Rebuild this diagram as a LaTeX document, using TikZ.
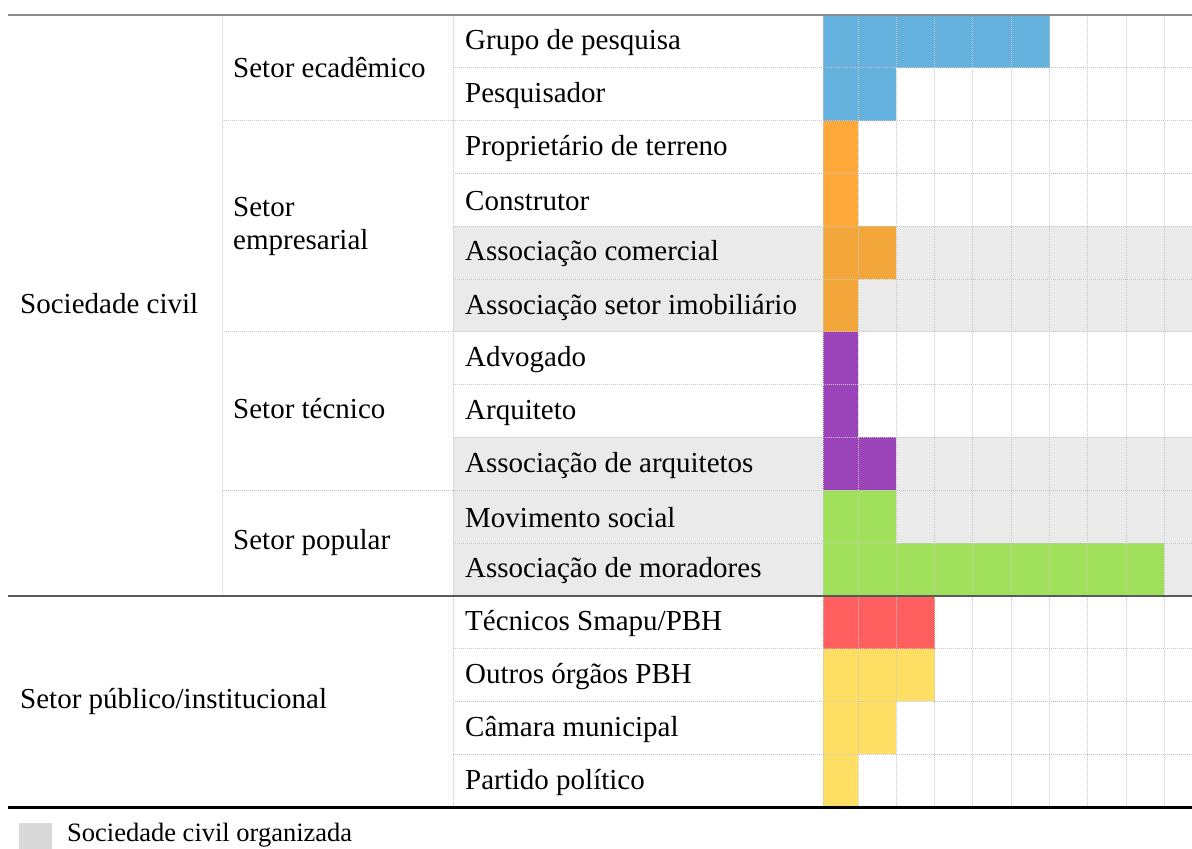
\documentclass[tikz,border=0pt]{standalone}
\usepackage{fontspec}
\setmainfont{Liberation Serif}
\definecolor{barblue}{HTML}{63B1DC}
\definecolor{barorange}{HTML}{FFA93B}
\definecolor{barorangedim}{HTML}{F3A73A}
\definecolor{barpurple}{HTML}{9B44B9}
\definecolor{bargreen}{HTML}{A0E05A}
\definecolor{barred}{HTML}{FF5F5F}
\definecolor{baryellow}{HTML}{FFDF63}
\definecolor{rowshade}{HTML}{EAEAEA}
\definecolor{legendshade}{HTML}{D9D9D9}

\begin{document}
\begin{tikzpicture}[x=1pt,y=-1pt,
  every node/.style={font=\fontsize{29}{33}\selectfont,inner sep=0pt},
  rowlabel/.style={anchor=west},
  grouplabel/.style={anchor=west,align=left},
  bar/.style={fill=#1},
  gridline/.style={draw=black!22,densely dotted,line width=1pt},
  rule/.style={line width=#1}]
\useasboundingbox (0,0) rectangle (1192,849);

% shaded rows
\foreach \i in {5,6,9,10,11}
  \fill[rowshade] (453,{15+52.8*(\i-1)}) rectangle (1192,{15+52.8*\i});

% bars
\foreach \i/\c/\n in {1/barblue/6, 2/barblue/2, 3/barorange/1, 4/barorange/1,
    5/barorangedim/2, 6/barorangedim/1, 7/barpurple/1, 8/barpurple/1, 9/barpurple/2,
    10/bargreen/2, 11/bargreen/9, 12/barred/3, 13/baryellow/3, 14/baryellow/2,
    15/baryellow/1}
  \fill[bar=\c] (823,{15+52.8*(\i-1)}) rectangle ({858+38.3*(\n-1)},{15+52.8*\i});

% grid
\foreach \i in {1,...,10,12,13,14}
  \draw[gridline] (453,{15+52.8*\i}) -- (1192,{15+52.8*\i});
\foreach \i in {2,6,9}
  \draw[gridline] (222,{15+52.8*\i}) -- (453,{15+52.8*\i});
\draw[gridline] (222,15) -- (222,596);
\draw[gridline] (453,15) -- (453,807);
\foreach \k in {0,...,9}
  \draw[gridline] ({823+35*min(\k,1)+38.3*max(\k-1,0)},15) -- ({823+35*min(\k,1)+38.3*max(\k-1,0)},807);

% rules
\draw[rule=2pt,black!45] (8,15) -- (1192,15);
\draw[rule=2pt,black!65] (8,596) -- (1192,596);
\draw[rule=3pt,black] (8,807) -- (1192,807);

% first column
\node[rowlabel] (civil)   at (20,304)   {Sociedade civil};
\node[rowlabel] (publico) at (20,701) {Setor público/institucional};

% second column
\node[grouplabel] (academico)   at (233,68)  {Setor ecadêmico};
\node[grouplabel] (empresarial) at (233,226) {Setor\\empresarial};
\node[grouplabel] (tecnico)     at (233,409) {Setor técnico};
\node[grouplabel] (popular)     at (233,543) {Setor popular};

% third column
\node[rowlabel] (grupo)        at (465,43)    {Grupo de pesquisa};
\node[rowlabel] (pesquisador)  at (465,96)    {Pesquisador};
\node[rowlabel] (proprietario) at (465,148.5) {Proprietário de terreno};
\node[rowlabel] (construtor)   at (465,201.3) {Construtor};
\node[rowlabel] (comercial)    at (465,254)   {Associação comercial};
\node[rowlabel] (imobiliario)  at (465,307)   {Associação setor imobiliário};
\node[rowlabel] (advogado)     at (465,359.7) {Advogado};
\node[rowlabel] (arquiteto)    at (465,412.5) {Arquiteto};
\node[rowlabel] (arquitetos)   at (465,465.3) {Associação de arquitetos};
\node[rowlabel] (movimento)    at (465,518)   {Movimento social};
\node[rowlabel] (moradores)    at (465,571)   {Associação de moradores};
\node[rowlabel] (smapu)        at (465,623.7) {Técnicos Smapu/PBH};
\node[rowlabel] (orgaos)       at (465,676.5) {Outros órgãos PBH};
\node[rowlabel] (camara)       at (465,729.3) {Câmara municipal};
\node[rowlabel] (partido)      at (465,782)   {Partido político};

% legend
\fill[legendshade] (19,823) rectangle (52,860);
\node[anchor=base west,font=\fontsize{26.5}{30}\selectfont] (legenda) at (67,841) {Sociedade civil organizada};
\end{tikzpicture}
\end{document}
